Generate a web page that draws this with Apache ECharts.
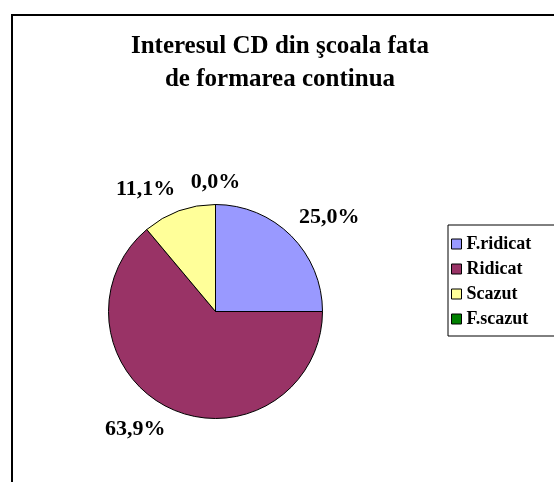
<!DOCTYPE html>
<html>
<head>
<meta charset="utf-8">
<script src="https://cdn.jsdelivr.net/npm/echarts@6/dist/echarts.min.js"></script>
<style>html,body{margin:0;padding:0;background:#fff;}#c{width:554px;height:482px;}</style>
</head>
<body>
<div id="c"></div>
<script>
var categories = ['F.ridicat', 'Ridicat', 'Scazut', 'F.scazut'];
var values = [25.0, 63.9, 11.1, 0.0];
var colors = ['#9999FF', '#993366', '#FFFF99', '#008000'];
var titleText = 'Interesul CD din şcoala fata\nde formarea continua';

var chart = echarts.init(document.getElementById('c'), null, {renderer: 'canvas'});
var font = "'Liberation Serif', 'Times New Roman', serif";
var LABEL_GAP = 11;

// Excel-like placement: the label box sits just outside the pie,
// its nearest corner toward the slice's mid-angle edge point.
function excelLabelLayout(params) {
  var pts = params.labelLinePoints;
  if (!pts || pts.length < 2) return {};
  var p0 = pts[0], p1 = pts[1];
  var vx = p1[0] - p0[0], vy = p1[1] - p0[1];
  var len = Math.sqrt(vx * vx + vy * vy) || 1;
  vx /= len; vy /= len;
  var w = params.labelRect.width, h = params.labelRect.height;
  var sx = Math.abs(vx) < 0.05 ? 0 : (vx > 0 ? 1 : -1);
  var sy = Math.abs(vy) < 0.05 ? 0 : (vy > 0 ? 1 : -1);
  return {
    x: p0[0] + vx * LABEL_GAP + sx * w / 2,
    y: p0[1] + vy * LABEL_GAP + sy * h / 2,
    align: 'center',
    verticalAlign: 'middle'
  };
}

chart.setOption({
  animation: false,
  color: colors,
  graphic: [{
    type: 'rect', silent: true, z: -1,
    shape: {x: 12, y: 15, width: 700, height: 600},
    style: {fill: '#fff', stroke: '#000', lineWidth: 2}
  }],
  title: {
    text: titleText,
    left: 275, top: 25, textAlign: 'center',
    textStyle: {fontFamily: font, fontWeight: 'bold', fontSize: 25, lineHeight: 33, color: '#000'}
  },
  legend: {
    orient: 'vertical', left: 448, top: 225,
    data: categories,
    icon: 'rect', itemWidth: 10, itemHeight: 10, itemGap: 7,
    padding: [10, 40, 8, 3],
    borderColor: '#000', borderWidth: 1,
    itemStyle: {borderColor: '#000', borderWidth: 1},
    textStyle: {fontFamily: font, fontWeight: 'bold', fontSize: 18, lineHeight: 18, color: '#000'}
  },
  series: [{
    type: 'pie',
    center: [215.5, 311.5], radius: 107,
    startAngle: 90, clockwise: true,
    avoidLabelOverlap: false,
    itemStyle: {borderColor: '#000', borderWidth: 1},
    label: {
      show: true, position: 'outside',
      formatter: function (p) { return p.value.toFixed(1).replace('.', ',') + '%'; },
      fontFamily: font, fontWeight: 'bold', fontSize: 22, lineHeight: 22, color: '#000'
    },
    labelLine: {show: true, length: 10, length2: 0, lineStyle: {opacity: 0}},
    labelLayout: excelLabelLayout,
    data: categories.map(function (c, i) { return {name: c, value: values[i]}; })
  }]
});
</script>
</body>
</html>
